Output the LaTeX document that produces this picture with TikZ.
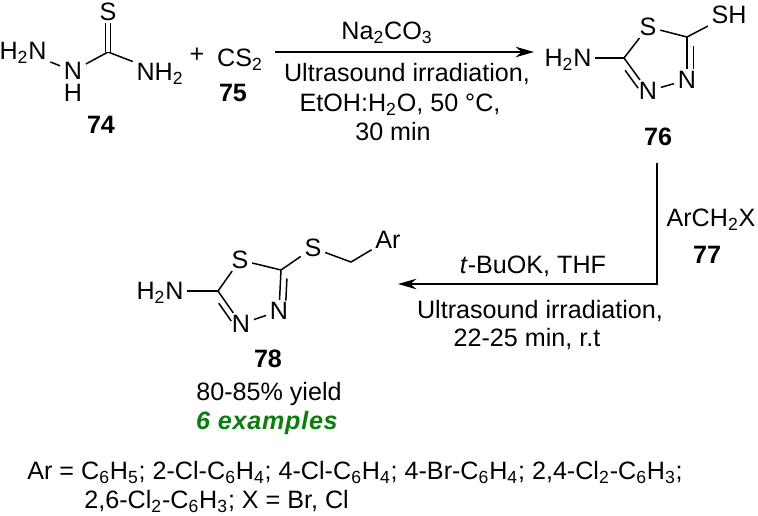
\documentclass[tikz,border=0pt]{standalone}
\usepackage{fontspec}
\setmainfont{Liberation Sans}
\usetikzlibrary{arrows.meta,calc}
\definecolor{exgreen}{RGB}{10,125,15}
\tikzset{
  atom/.style={inner xsep=2pt,inner ysep=1pt,text height=10.2pt,text depth=0pt,font=\fontsize{14.3}{16}\selectfont},
  lbl/.style={inner sep=0pt,text height=10.2pt,text depth=0pt,font=\fontsize{14.3}{16}\selectfont},
  num/.style={lbl,font=\fontsize{14.3}{16}\selectfont\bfseries},
  bond/.style={line width=0.85pt},
  rxn/.style={line width=1.1pt,-{Stealth[length=10.5pt,width=6pt]}}
}
% inner line of a ring double bond
\newcommand{\ringbond}[2]{\draw[bond] ($(#1)!0.2!(#2)!3.6pt!90:(#2)$) -- ($(#2)!0.26!(#1)!3.6pt!-90:(#1)$);}
\begin{document}
\begin{tikzpicture}[x=0.02cm,y=-0.02cm]
  \useasboundingbox (0,0) rectangle (758,515);

  %hydrazine part and CS2
  \node[atom] (h2n1) at (23,51) {H\textsubscript{2}N};
  \node[atom] (nh1) at (73,71) {N};
  \node[atom] (h1) at (73,93) {H};
  \coordinate (c1) at (108,52);
  \node[atom] (s1) at (108,12) {S};
  \node[atom] (nh2) at (160,72) {NH\textsubscript{2}};
  \draw[bond] (h2n1) -- (nh1);
  \draw[bond] (nh1) -- (c1);
  \draw[bond] (c1) -- (nh2);
  \draw[bond,double,double distance=2.2pt] (c1) -- (s1);
  \node[num] (n74) at (101,125) {74};
  \node[lbl] (plus) at (197,54) {+};
  \node[lbl] (cs2) at (240,58) {CS\textsubscript{2}};
  \node[num] (n75) at (233,93) {75};

  %first arrow
  \coordinate (a1s) at (275,52);
  \coordinate (a1e) at (534,52);
  \draw[rxn] (a1s) -- (a1e);
  \node[lbl] (cond1) at (387,31) {Na\textsubscript{2}CO\textsubscript{3}};
  \node[lbl] (cond2) at (407,73) {Ultrasound irradiation,};
  \node[lbl] (cond3) at (400,103) {EtOH:H\textsubscript{2}O, 50 °C,};
  \node[lbl] (cond4) at (393,132) {30 min};

  %thiadiazole thiol
  \node[atom] (sa) at (648,27) {S};
  \coordinate (ca5) at (687,37);
  \node[atom] (na4) at (687,80) {N};
  \node[atom] (na3) at (648,91) {N};
  \coordinate (ca2) at (624,58);
  \node[atom] (h2na) at (568,58) {H\textsubscript{2}N};
  \node[atom] (sh) at (729,15) {SH};
  \draw[bond] (ca2) -- (sa) -- (ca5);
  \draw[bond] (ca5) -- (na4);
  \draw[bond] (na4) -- (na3);
  \draw[bond] (na3) -- (ca2);
  \draw[bond] (h2na) -- (ca2);
  \draw[bond] (ca5) -- (sh);
  \ringbond{ca5}{na4}
  \ringbond{na3}{ca2}
  \node[num] (n76) at (658,137) {76};

  %second arrow
  \coordinate (a2s) at (657,163);
  \coordinate (a2c) at (657,284);
  \coordinate (a2e) at (398,284);
  \draw[rxn] (a2s) -- (a2c) -- (a2e);
  \node[lbl] (arx) at (711,218) {ArCH\textsubscript{2}X};
  \node[num] (n77) at (707,255) {77};
  \node[lbl] (cond5) at (533,265) {\textit{t}-BuOK, THF};
  \node[lbl] (cond6) at (540,310) {Ultrasound irradiation,};
  \node[lbl] (cond7) at (527,338) {22-25 min, r.t};

  %product
  \node[atom] (sb) at (240,260) {S};
  \coordinate (cb5) at (281,270);
  \node[atom] (nb4) at (279,311) {N};
  \node[atom] (nb3) at (241,324) {N};
  \coordinate (cb2) at (218,291);
  \node[atom] (h2nb) at (160,291) {H\textsubscript{2}N};
  \node[atom] (sc) at (313,248) {S};
  \coordinate (ch2) at (351,262);
  \node[atom] (ar) at (388,240) {Ar};
  \draw[bond] (cb2) -- (sb) -- (cb5);
  \draw[bond] (cb5) -- (nb4);
  \draw[bond] (nb4) -- (nb3);
  \draw[bond] (nb3) -- (cb2);
  \draw[bond] (h2nb) -- (cb2);
  \draw[bond] (cb5) -- (sc);
  \draw[bond] (sc) -- (ch2) -- (ar);
  \ringbond{cb5}{nb4}
  \ringbond{nb3}{cb2}
  \node[num] (n78) at (268,359) {78};
  \node[lbl] (yield) at (269,392) {80-85\% yield};
  \node[num,text=exgreen,font=\fontsize{14.3}{16}\selectfont\bfseries\itshape] (ex) at (267,421) {\addfontfeatures{LetterSpace=3}6 examples};

  %footnote
  \node[lbl,anchor=west] (foot1) at (27,471) {Ar = C\textsubscript{6}H\textsubscript{5}; 2-Cl-C\textsubscript{6}H\textsubscript{4}; 4-Cl-C\textsubscript{6}H\textsubscript{4}; 4-Br-C\textsubscript{6}H\textsubscript{4}; 2,4-Cl\textsubscript{2}-C\textsubscript{6}H\textsubscript{3};};
  \node[lbl,anchor=west] (foot2) at (84,500) {2,6-Cl\textsubscript{2}-C\textsubscript{6}H\textsubscript{3}; X = Br, Cl};
\end{tikzpicture}
\end{document}
